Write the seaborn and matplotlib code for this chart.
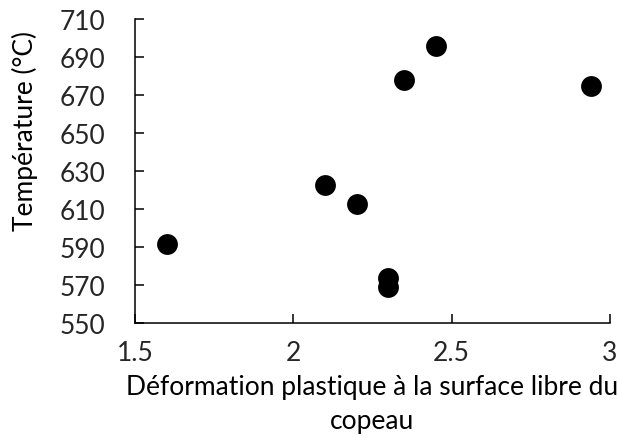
import matplotlib
matplotlib.use("Agg")
import matplotlib.pyplot as plt
import seaborn as sns
import pandas as pd

deformation = [1.60, 2.10, 2.20, 2.30, 2.30, 2.35, 2.45, 2.94]
temperature = [592, 623, 613, 574, 569, 678, 696, 675]
x_ticks = [1.5, 2, 2.5, 3]
x_tick_labels = ["1.5", "2", "2.5", "3"]
y_ticks = [550, 570, 590, 610, 630, 650, 670, 690, 710]

df = pd.DataFrame({"x": deformation, "y": temperature})

sns.set_theme(style="white")
plt.rcParams["font.family"] = ["Lato", "DejaVu Sans"]

fig = plt.figure(figsize=(6.19, 4.39), dpi=100)
ax = fig.add_axes([0.218, 0.261, 0.7675, 0.693])

sns.scatterplot(data=df, x="x", y="y", ax=ax, color="black", s=225,
                edgecolor="black", linewidth=0, zorder=3)

ax.set_xlim(1.5, 3)
ax.set_ylim(550, 710)
ax.set_xticks(x_ticks)
ax.set_xticklabels(x_tick_labels)
ax.set_yticks(y_ticks)

for side in ["top", "right"]:
    ax.spines[side].set_visible(False)
for side in ["left", "bottom"]:
    ax.spines[side].set_color("black")
    ax.spines[side].set_linewidth(1.1)

ax.tick_params(axis="x", direction="in", length=6.5, width=1.1, color="black",
               labelsize=19, pad=12, bottom=True)
ax.tick_params(axis="y", direction="in", length=6.5, width=1.1, color="black",
               labelsize=19, pad=21, left=True)
ax.set_xlabel("Déformation plastique à la surface libre du\ncopeau",
              fontsize=19, color="black", linespacing=1.45)
ax.set_ylabel("Température (°C)", fontsize=19, color="black")
ax.xaxis.set_label_coords(0.5, -0.165)
ax.xaxis.label.set_va("top")
ax.yaxis.set_label_coords(-0.205, 0.635)

fig.savefig("out.png", dpi=100)
